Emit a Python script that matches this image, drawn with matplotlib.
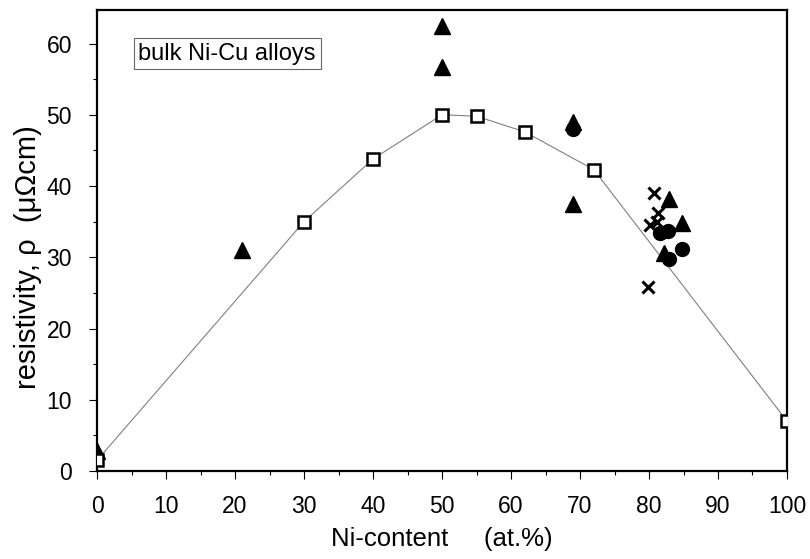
import matplotlib
matplotlib.use("Agg")
import matplotlib.pyplot as plt
from matplotlib.ticker import MultipleLocator

plt.rcParams["font.family"] = ["Liberation Sans", "DejaVu Sans"]

# bulk alloy reference curve (open squares)
ref_ni = [0, 30, 40, 50, 55, 62, 72, 100]
ref_rho = [1.5, 35.0, 43.8, 50.0, 49.8, 47.6, 42.3, 7.0]

# literature points
tri_ni = [0, 21, 50, 50, 69, 69, 82.9, 84.8, 82.2]
tri_rho = [2.8, 31.0, 62.5, 56.7, 49.0, 37.5, 38.2, 34.8, 30.6]

circ_ni = [69, 81.6, 82.8, 84.8, 82.9]
circ_rho = [48.0, 33.4, 33.7, 31.2, 29.8]

cross_ni = [80.7, 81.3, 80.1, 81.1, 79.9]
cross_rho = [39.0, 36.2, 34.5, 35.0, 25.8]

fig = plt.figure(figsize=(8.1, 5.59), dpi=100)
ax = fig.add_axes([0.1198, 0.1574, 0.8518, 0.8246])

ax.plot(ref_ni, ref_rho, color="#808080", lw=0.8, zorder=2)
ax.plot(ref_ni, ref_rho, ls="none", marker="s", ms=9, mfc="white",
        mec="black", mew=1.8, zorder=4)
ax.plot(tri_ni, tri_rho, ls="none", marker="^", ms=11, color="black", zorder=3)
ax.plot(circ_ni, circ_rho, ls="none", marker="o", ms=10, color="black", zorder=3)
ax.plot(cross_ni, cross_rho, ls="none", marker="x", ms=9, mew=2.2,
        color="black", zorder=3)

ax.set_xlim(0, 100)
ax.set_ylim(0, 64.7)
ax.xaxis.set_major_locator(MultipleLocator(10))
ax.xaxis.set_minor_locator(MultipleLocator(5))
ax.yaxis.set_major_locator(MultipleLocator(10))
ax.yaxis.set_minor_locator(MultipleLocator(5))
ax.tick_params(which="both", direction="out", top=False, right=False,
               labelsize=16.5, width=0.8)
ax.tick_params(which="major", length=6)
ax.tick_params(which="minor", length=3)
ax.tick_params(axis="x", which="major", pad=11)
ax.tick_params(axis="y", which="major", pad=12)
for s in ax.spines.values():
    s.set_linewidth(1.6)

ax.set_xlabel("Ni-content     (at.%)", fontsize=18.5)
ax.xaxis.set_label_coords(0.5, -0.122)
ax.set_ylabel("resistivity, ρ  (μΩcm)", fontsize=21)
ax.yaxis.set_label_coords(-0.080, 0.464)

ax.text(6.0, 58.6, "bulk Ni-Cu alloys", fontsize=17, va="center", ha="left",
        bbox=dict(boxstyle="square,pad=0.2", fc="white", ec="#666666", lw=0.8))

fig.savefig("out.png", dpi=100)
